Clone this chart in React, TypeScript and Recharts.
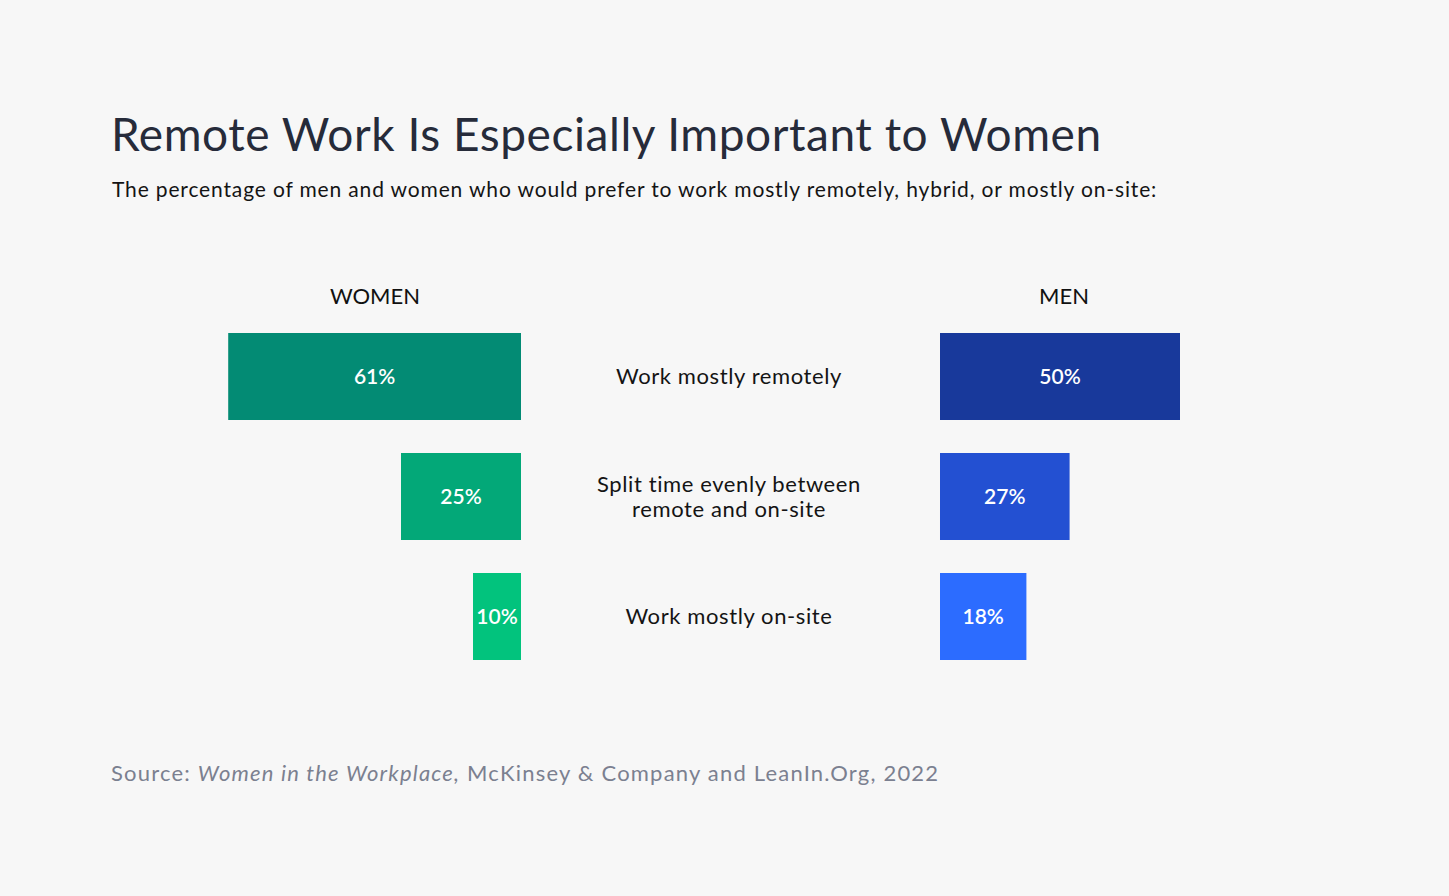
import React from 'react'
import { Bar, BarChart, Cell, LabelList, XAxis, YAxis } from 'recharts'

const categories = ['Work mostly remotely', 'Split time evenly between\nremote and on-site', 'Work mostly on-site']
const womenValues = [61, 25, 10]
const menValues = [50, 27, 18]
const womenColors = ['#038b74', '#03a878', '#02c37d']
const menColors = ['#18399b', '#2350d2', '#2c6cff']

const data = categories.map((category, i) => ({
    category,
    women: womenValues[i],
    men: menValues[i],
}))

const FONT = "Lato, 'Noto Sans', sans-serif"

const CategoryTick = (props: any) => {
    const { x, y, payload } = props
    const lines: string[] = String(payload.value).split('\n')
    const lineHeight = 25
    const startY = y - 1 - ((lines.length - 1) * lineHeight) / 2
    const cx = x - 203
    return (
        <text x={cx} y={startY} textAnchor='middle' dominantBaseline='central' fill='#141414' fontSize={22} letterSpacing={0.6} fontFamily={FONT}>
            {lines.map((line, i) => (
                <tspan key={i} x={cx} y={startY + i * lineHeight}>{line}</tspan>
            ))}
        </text>
    )
}

const pct = (v: any) => `${v}%`

const App = () => {
    return (
        <div style={{ position: 'fixed', left: 0, top: 0, width: 1449, height: 896, background: '#f7f7f7', fontFamily: FONT }}>
            <div style={{ position: 'absolute', left: 111, top: 106, fontSize: 46, letterSpacing: 0.55, color: '#262b3a', whiteSpace: 'nowrap' }}>
                Remote Work Is Especially Important to Women
            </div>
            <div style={{ position: 'absolute', left: 112, top: 176, fontSize: 21, letterSpacing: 0.85, color: '#141414', whiteSpace: 'nowrap' }}>
                The percentage of men and women who would prefer to work mostly remotely, hybrid, or mostly on-site:
            </div>

            <div style={{ position: 'absolute', left: 275, width: 200, top: 282, textAlign: 'center', fontSize: 22, color: '#111' }}>WOMEN</div>
            <div style={{ position: 'absolute', left: 964, width: 200, top: 282, textAlign: 'center', fontSize: 22, color: '#111' }}>MEN</div>

            <div style={{ position: 'absolute', left: 0, top: 316 }}>
                <BarChart width={521} height={360} data={data} layout='vertical' margin={{ top: 0, right: 0, bottom: 0, left: 41 }}>
                    <XAxis type='number' domain={[0, 100]} reversed hide />
                    <YAxis type='category' dataKey='category' hide />
                    <Bar dataKey='women' barSize={87} isAnimationActive={false}>
                        {womenColors.map((c, i) => <Cell key={`w-${i}`} fill={c} />)}
                        <LabelList dataKey='women' position='center' formatter={pct} fill='#fff' fontSize={21} fontWeight={600} fontFamily={FONT} />
                    </Bar>
                </BarChart>
            </div>

            <div style={{ position: 'absolute', left: 521, top: 316 }}>
                <BarChart width={899} height={360} data={data} layout='vertical' margin={{ top: 0, right: 0, bottom: 0, left: 0 }}>
                    <XAxis type='number' domain={[0, 100]} hide />
                    <YAxis type='category' dataKey='category' width={419} axisLine={false} tickLine={false} tick={CategoryTick} />
                    <Bar dataKey='men' barSize={87} isAnimationActive={false}>
                        {menColors.map((c, i) => <Cell key={`m-${i}`} fill={c} />)}
                        <LabelList dataKey='men' position='center' formatter={pct} fill='#fff' fontSize={21} fontWeight={600} fontFamily={FONT} />
                    </Bar>
                </BarChart>
            </div>

            <div style={{ position: 'absolute', left: 111, top: 759, fontSize: 22, letterSpacing: 1.2, color: '#7b8090', whiteSpace: 'nowrap' }}>
                Source: <i>Women in the Workplace,</i> McKinsey &amp; Company and LeanIn.Org, 2022
            </div>
        </div>
    )
}

export default App
